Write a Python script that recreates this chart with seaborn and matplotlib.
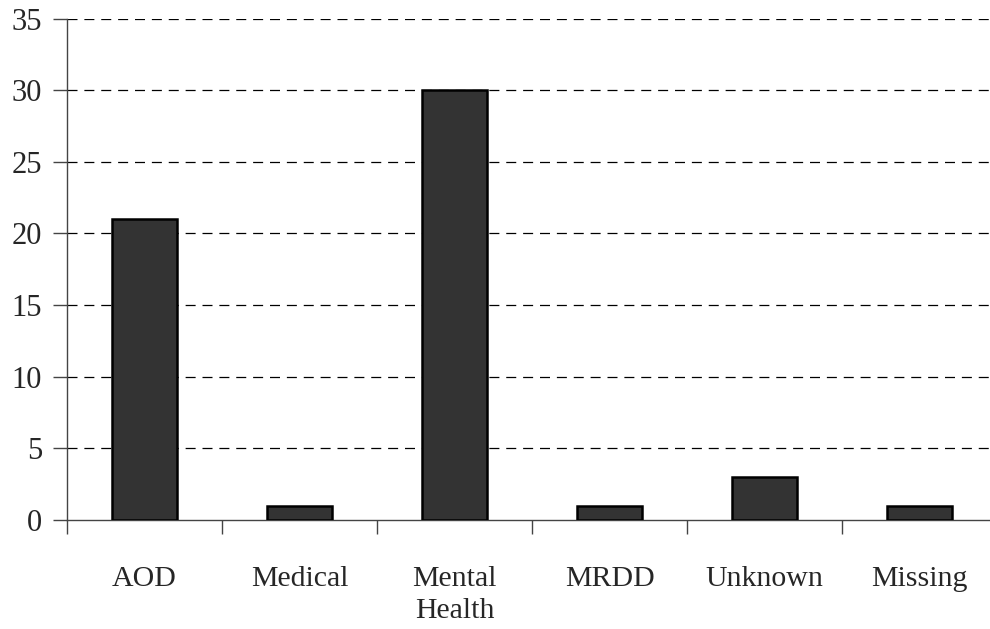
import numpy as np
import pandas as pd
import seaborn as sns
import matplotlib.pyplot as plt
from matplotlib.ticker import FixedLocator

# Data
categories = ['AOD', 'Medical', 'Mental\nHealth', 'MRDD', 'Unknown', 'Missing']
counts = [21, 1, 30, 1, 3, 1]
y_ticks = [0, 5, 10, 15, 20, 25, 30, 35]

df = pd.DataFrame({'category': categories, 'count': counts})

sns.set_style('white')
plt.rcParams['font.family'] = ['Liberation Serif', 'DejaVu Serif']

fig = plt.figure(figsize=(9.9, 6.29), dpi=100)
ax = fig.add_axes([67 / 990, 109 / 629, 930 / 990, 501.5 / 629])

sns.barplot(data=df, x='category', y='count', color='#333333', saturation=1,
            edgecolor='black', linewidth=1.8, width=0.42, ax=ax, zorder=3)

ax.set_xlim(-0.5, len(categories) - 0.5)
ax.set_ylim(0, 35)
ax.set_yticks(y_ticks)
ax.set_yticklabels([str(t) for t in y_ticks], fontsize=22)

# dashed gridlines
for t in y_ticks[1:]:
    ax.axhline(t, color='black', linestyle=(0, (8, 5.5)), linewidth=0.9, zorder=1)

ax.set_xlabel('')
ax.set_ylabel('')
ax.tick_params(axis='x', which='major', bottom=True, length=0, pad=33, labelsize=21.5)
ax.xaxis.set_minor_locator(FixedLocator(np.arange(-0.5, len(categories), 1.0)))
ax.tick_params(axis='x', which='minor', bottom=True, length=10, width=1,
               color='#444444', direction='out')
ax.tick_params(axis='y', left=True, length=10, width=1, color='#444444',
               direction='out', pad=8)
for lbl in ax.get_xticklabels():
    lbl.set_linespacing(1.3)

sns.despine(ax=ax, top=True, right=True)
ax.spines['left'].set_color('#444444')
ax.spines['bottom'].set_color('#444444')
ax.spines['left'].set_linewidth(1)
ax.spines['bottom'].set_linewidth(1)

fig.savefig('out.png', dpi=100)
